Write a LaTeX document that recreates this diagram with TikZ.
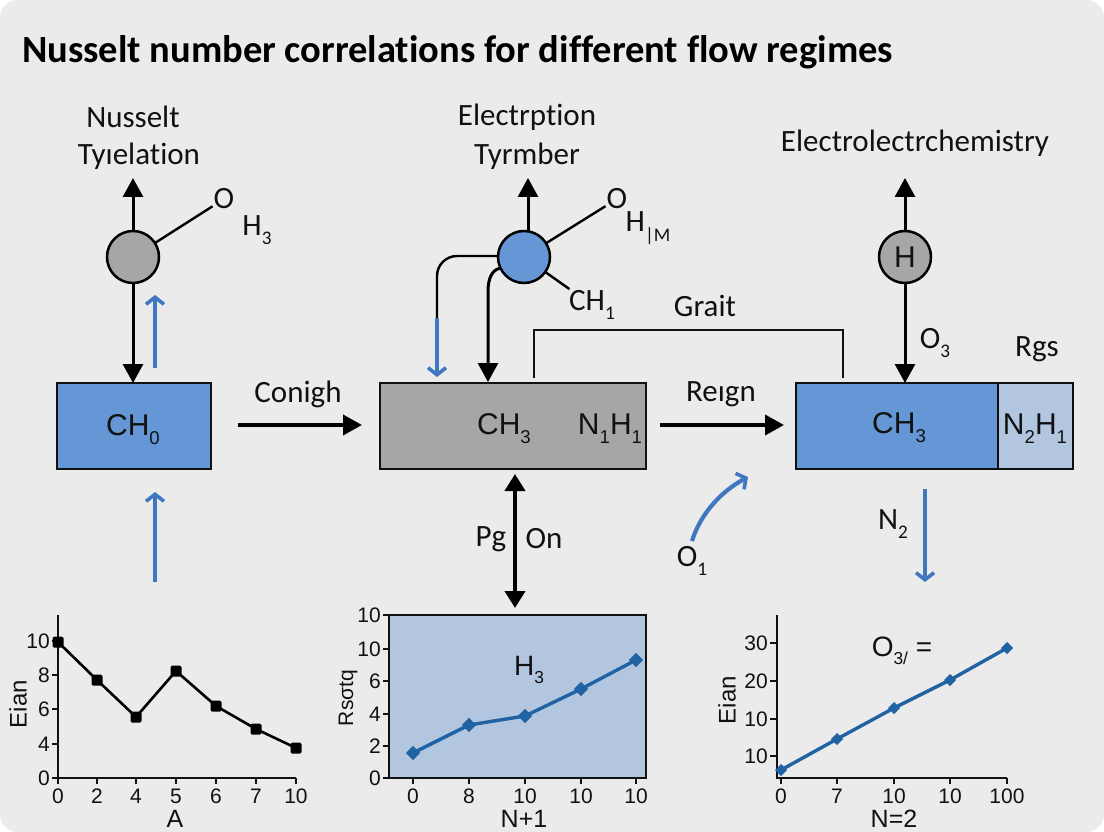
\documentclass[tikz,border=0pt]{standalone}
\usepackage{fontspec}
\setmainfont[RawFeature=-liga]{Carlito}
\newfontfamily\axfont{Liberation Sans}
\usetikzlibrary{arrows.meta,calc}
\definecolor{bgc}{HTML}{EBEBEB}
\definecolor{boxblue}{HTML}{6596D5}
\definecolor{boxgray}{HTML}{A6A6A6}
\definecolor{boxlight}{HTML}{B3C6E0}
\definecolor{arrblue}{HTML}{3F78C0}
\definecolor{lineblue}{HTML}{1F63A5}
\definecolor{inkc}{HTML}{111111}
\newcommand{\fsz}[1]{\fontsize{#1}{#1}\selectfont}
\newcommand{\sbs}[1]{\raisebox{-.3em}{\scalebox{.62}{#1}}}
\tikzset{
  x=1pt,y=-1pt,
  title/.style={anchor=west,inner sep=0pt,text=black,font=\fsz{38.5}\bfseries},
  lab/.style={inner sep=1pt,text=inkc,font=\fsz{31}},
  ch/.style={inner sep=1pt,text=inkc,font=\axfont\fsz{30}},
  tk/.style={inner sep=0pt,text=inkc,font=\axfont\fsz{21}},
  axt/.style={inner sep=0pt,text=inkc,font=\axfont\fsz{24}},
  axb/.style={inner sep=0pt,text=inkc,font=\axfont\fsz{25}},
  circ/.style={circle,draw=black,line width=2.5pt,minimum size=52pt,inner sep=0pt,outer sep=0pt},
  bx/.style={draw=inkc,line width=2pt,inner sep=0pt,outer sep=0pt,anchor=north west},
  bk/.style={draw=black,line width=3pt,-{Triangle[length=19pt,width=20pt]}},
  bkh/.style={draw=black,line width=3.8pt,-{Triangle[length=19pt,width=20pt]}},
  bkb/.style={draw=black,line width=4pt,{Triangle[length=17pt,width=20pt]}-{Triangle[length=17pt,width=20pt]}},
  ln/.style={draw=black,line width=2.4pt},
  thinl/.style={draw=inkc,line width=1.4pt},
  bl/.style={draw=arrblue,line width=4.2pt,-{Straight Barb[length=7pt,width=18pt,line width=3.6pt]}},
  axl/.style={draw=inkc,line width=2pt},
  ser/.style={line width=2.6pt},
  mk/.style={inner sep=0pt,minimum size=11pt,fill=black,rounded corners=1.5pt},
  dm/.style={inner sep=0pt,minimum size=10pt,fill=lineblue,rotate=45},
  dms/.style={inner sep=0pt,minimum size=8.5pt,fill=lineblue,rotate=45},
}
\begin{document}
\begin{tikzpicture}
\useasboundingbox (0,0) rectangle (1104,832);
\fill[white] (0,0) rectangle (1104,832);
\fill[bgc,rounded corners=18pt] (0,0) rectangle (1104,832);
\begin{scope}
\clip (0,0) rectangle (1104,832);
\node[title] (ttl) at (22,52) {Nusselt number correlations for different flow regimes};

% column 1
\node[lab] (l1a) at (133,117) {Nusselt};
\node[lab] (l1b) at (139,156) {Tyıelation};
\node[circ,fill=boxgray] (c1) at (133,257) {};
\node[lab] (o1) at (224,199) {O};
\node[lab] (h1) at (257,230) {H\sbs{3}};
\node[bx,fill=boxblue,minimum width=154pt,minimum height=86pt] (b1) at (57,383) {};
\node[ch] (b1t) at (133,430) {CH\sbs{0}};
\coordinate (u1) at (133,178);
\draw[bk] (c1) -- (u1);
\draw[ln] (c1) -- (o1);
\draw[bk] (c1) -- (c1 |- b1.north);
\coordinate (ba) at (155,368); \coordinate (bb) at (155,295);
\draw[bl] (ba) -- (bb);
\coordinate (bc) at (155,582); \coordinate (bd) at (155,492);
\draw[bl] (bc) -- (bd);

% column 2
\node[lab] (l2a) at (527,117) {Electrption};
\node[lab] (l2b) at (527,156) {Tyrmber};
\node[circ,fill=boxblue] (c2) at (524,257) {};
\node[lab] (o2) at (617,199) {O};
\node[lab] (h2) at (648,228) {H\sbs{\textbar{}M}};
\node[lab] (ch1) at (592,305) {CH\sbs{1}};
\node[bx,fill=boxgray,minimum width=266pt,minimum height=86pt] (b2) at (380,383) {};
\node[ch] (b2t) at (504,429) {CH\sbs{3}};
\node[ch] (b2u) at (610,429) {N\sbs{1}H\sbs{1}};
\coordinate (u2) at (528,178);
\coordinate (c2top) at (528,231);
\draw[bk] (c2top) -- (u2);
\draw[ln] (c2) -- (o2);
\draw[ln] (c2) -- (ch1);
\coordinate (v1) at (437,318); \coordinate (v2) at (437,377);
\draw[ln,rounded corners=20pt] (c2.west |- 0,256) -- (437,256) -- (v1);
\draw[bl] (v1) -- (v2);
\coordinate (v3) at (488,382);
\draw[bk] (c2.205) .. controls (492,270) and (488,278) .. (488,292) -- (v3);
\node[lab] (gr) at (705,306) {Grait};
\coordinate (t1) at (534,378); \coordinate (t2) at (843,378);
\draw[thinl] (t1) -- (534,330) -- (843,330) -- (t2);
\node[lab] (pg) at (491,539) {Pg};
\node[lab] (on) at (544,539) {On};
\coordinate (dd) at (515,608);
\draw[bkb] (b2.south -| dd) ++(0,5) -- (dd);

% connectors between boxes
\node[lab] (cn) at (298,394) {Conigh};
\coordinate (a1) at (238,425); \coordinate (a2) at (362,425);
\draw[bkh] (a1) -- (a2);
\node[lab] (rg) at (721,394) {Reıgn};
\coordinate (a3) at (660,425); \coordinate (a4) at (784,425);
\draw[bkh] (a3) -- (a4);
\coordinate (q1) at (692,541); \coordinate (q2) at (748,477);
\draw[bl] (q1) .. controls (700,515) and (720,492) .. (q2);
\node[lab] (o1b) at (692,561) {O\sbs{1}};

% column 3
\node[lab] (l3) at (915,143) {Electrolectrchemistry};
\node[circ,fill=boxgray] (c3) at (905,257) {};
\node[ch] (c3t) at (905,257) {H};
\node[lab] (o3) at (935,343) {O\sbs{3}};
\node[lab] (rgs) at (1037,349) {Rgs};
\node[bx,fill=boxblue,minimum width=202pt,minimum height=86pt] (b3) at (796,383) {};
\node[bx,fill=boxlight,minimum width=75pt,minimum height=86pt] (b4) at (998,383) {};
\node[ch] (b3t) at (899,428) {CH\sbs{3}};
\node[ch] (b4t) at (1035,429) {N\sbs{2}H\sbs{1}};
\coordinate (u3) at (905,178);
\draw[bk] (c3) -- (u3);
\draw[bk] (c3) -- (c3 |- b3.north);
\coordinate (w1) at (925,489); \coordinate (w2) at (925,582);
\draw[bl] (w1) -- (w2);
\node[lab] (n2) at (893,524) {N\sbs{2}};

% chart 1
\foreach \y/\t in {641/10,675/8,709/6,744/4,778/0}{
  \draw[axl] (52,\y) -- (58,\y);
  \node[tk,anchor=east] at (50,\y) {\t};
}
\foreach \x/\t in {58/0,97/2,136/4,176/5,216/6,256/7,296/10}{
  \draw[axl] (\x,778) -- (\x,784);
  \node[tk] at (\x,796) {\t};
}
\draw[axl] (58,615) -- (58,778) -- (296,778);
\node[axt,rotate=90] at (18,704) {Eian};
\node[axb] at (175,819) {A};
\draw[draw=black,ser] (58,642) -- (97,680) -- (136,717) -- (176,671) -- (216,706) -- (256,729) -- (296,748);
\foreach \x/\y in {58/642,97/680,136/717,176/671,216/706,256/729,296/748} \node[mk] at (\x,\y) {};

% chart 2
\fill[boxlight] (389,615) rectangle (646,778);
\draw[axl] (389,615) rectangle (646,778);
\foreach \y/\t in {615/10,649/10,681/6,714/4,746/2,778/0}{
  \draw[axl] (383,\y) -- (389,\y);
  \node[tk,anchor=east] at (381,\y) {\t};
}
\foreach \x/\t in {413/0,469/8,525/10,581/10,636/10}{
  \draw[axl] (\x,778) -- (\x,784);
  \node[tk] at (\x,796) {\t};
}
\node[axt,rotate=90,font=\axfont\fsz{21}] at (348,698) {Rsσtq};
\node[axb] at (524,819) {N+1};
\node[axt,font=\axfont\fsz{28}] at (529,670) {H\sbs{3}};
\draw[draw=lineblue,ser,line width=3.4pt] (413,753) -- (469,725) -- (525,716) -- (581,689) -- (636,660);
\foreach \x/\y in {413/753,469/725,525/716,581/689,636/660} \node[dm] at (\x,\y) {};

% chart 3
\foreach \y/\t in {643/30,681/20,719/10,756/10}{
  \draw[axl] (770,\y) -- (777,\y);
  \node[tk,anchor=east] at (768,\y) {\t};
}
\foreach \x/\t in {781/0,837/7,894/10,950/10,1007/100}{
  \draw[axl] (\x,778) -- (\x,784);
  \node[tk] at (\x,796) {\t};
}
\draw[axl] (777,615) -- (777,778) -- (1007,778);
\node[axt,rotate=90] at (727,700) {Eian};
\node[axb] at (894,819) {N=2};
\node[axt,font=\axfont\fsz{28}] at (902,651) {O\sbs{3/} =};
\draw[draw=lineblue,ser,line width=3.4pt] (781,770) -- (837,739) -- (894,708) -- (950,680) -- (1007,648);
\foreach \x/\y in {781/770,837/739,894/708,950/680,1007/648} \node[dms] at (\x,\y) {};
\end{scope}
\end{tikzpicture}
\end{document}
